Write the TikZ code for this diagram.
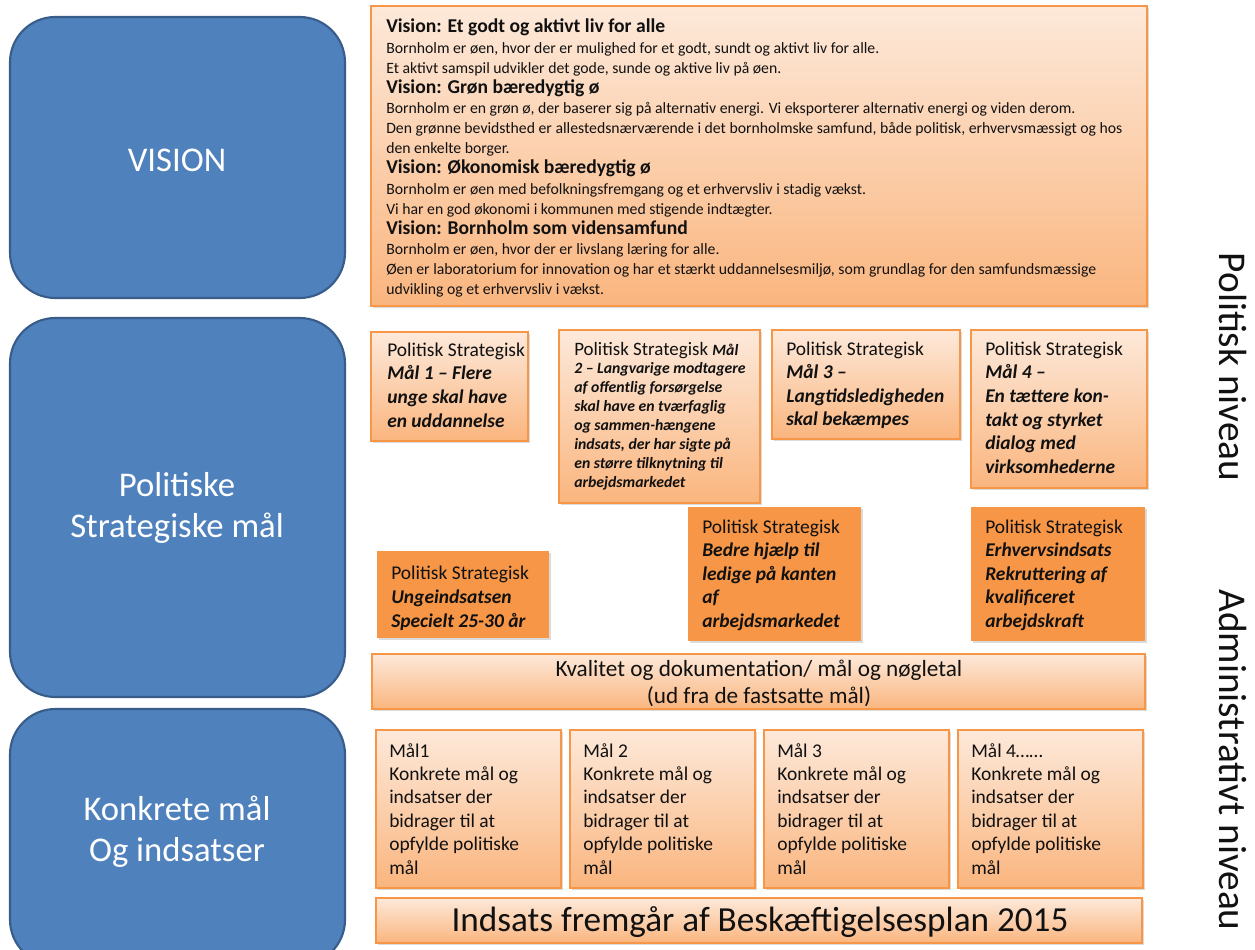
\documentclass[tikz,border=0pt]{standalone}
\usepackage{fontspec}
\setmainfont{Carlito}
\usetikzlibrary{fit,shadows}
\definecolor{bluefill}{HTML}{4F81BD}
\definecolor{blueline}{HTML}{385D8A}
\definecolor{orng}{HTML}{F79646}
\definecolor{peachtop}{HTML}{FDE9DA}
\definecolor{peachbot}{HTML}{FAB57E}
\definecolor{inkc}{HTML}{111111}
\newcommand\stk[2]{\vtop{\baselineskip=#1\lineskiplimit=-40pt\lineskip=0pt #2}}
\newcommand\myln[2]{\hbox{\fontsize{#1}{#1}\selectfont #2}}
\newcommand\mycln[2]{\hbox to 0pt{\hss\fontsize{#1}{#1}\selectfont #2\hss}}
\newcommand\bi{\bfseries\itshape}
\tikzset{
  x=0.75pt, y=-0.75pt,
  bluebox/.style={draw=blueline, line width=1.6pt, fill=bluefill, rounded corners=34pt, inner sep=0},
  peach/.style={draw=orng, line width=1.1pt, top color=peachtop, bottom color=peachbot, inner sep=0,
    drop shadow={shadow xshift=1.2pt, shadow yshift=-1.6pt, opacity=0.28}},
  orangebox/.style={fill=orng, inner sep=0,
    drop shadow={shadow xshift=1.2pt, shadow yshift=-1.6pt, opacity=0.28}},
  txt/.style={anchor=base west, inner sep=0, text=inkc},
  bluetxt/.style={align=center, text=white, inner sep=0, font=\fontsize{26}{31}\selectfont},
  sidetxt/.style={rotate=-90, inner sep=0, text=inkc, font=\fontsize{29.5}{32}\selectfont},
}
\begin{document}
\begin{tikzpicture}
\fill[white] (0,0) rectangle (1255,949);
\useasboundingbox (0,0) rectangle (1255,949);

% left blue boxes
\node[bluebox, fit={(10,17) (345,298)}] (bvis) {};
\node[bluebox, fit={(10,318) (345,697)}] (bpol) {};
\node[bluebox, fit={(10,709) (345,965)}] (bkon) {};
\node[bluetxt] (tvis) at (177,160) {VISION};
\node[bluetxt] (tpol) at (177,508) {Politiske\\Strategiske mål};
\node[bluetxt] (tkon) at (177,832) {Konkrete mål\\Og indsatser};

% vision box
\node[peach, fit={(371,6) (1147,306)}] (vis) {};
\node[txt] (vist) at (386,33) {\stk{15.1pt}{%
\myln{14.7}{\bfseries Vision: Et godt og aktivt liv for alle}
\myln{11.8}{Bornholm er øen, hvor der er mulighed for et godt, sundt og aktivt liv for alle.}
\myln{11.8}{Et aktivt samspil udvikler det gode, sunde og aktive liv på øen.}
\myln{14.7}{\bfseries Vision: Grøn bæredygtig ø}
\myln{11.8}{Bornholm er en grøn ø, der baserer sig på alternativ energi. Vi eksporterer alternativ energi og viden derom.}
\myln{11.8}{Den grønne bevidsthed er allestedsnærværende i det bornholmske samfund, både politisk, erhvervsmæssigt og hos}
\myln{11.8}{den enkelte borger.}
\myln{14.7}{\bfseries Vision: Økonomisk bæredygtig ø}
\myln{11.8}{Bornholm er øen med befolkningsfremgang og et erhvervsliv i stadig vækst.}
\myln{11.8}{Vi har en god økonomi i kommunen med stigende indtægter.}
\myln{14.7}{\bfseries Vision: Bornholm som vidensamfund}
\myln{11.8}{Bornholm er øen, hvor der er livslang læring for alle.}
\myln{11.8}{Øen er laboratorium for innovation og har et stærkt uddannelsesmiljø, som grundlag for den samfundsmæssige}
\myln{11.8}{udvikling og et erhvervsliv i vækst.}}};

% strategic goals, first row
\node[peach, fit={(371,332) (528,441)}] (m1) {};
\node[txt] (m1t) at (387,356) {\stk{17.9pt}{%
\myln{14.6}{Politisk Strategisk}
\myln{14.6}{\bi Mål 1 – Flere}
\myln{14.6}{\bi unge skal have}
\myln{14.6}{\bi en uddannelse}}};

\node[peach, fit={(559,330) (760,503)}] (m2) {};
\node[txt] (m2t) at (574,355) {\stk{14.2pt}{%
\myln{14.2}{Politisk Strategisk {\fontsize{11.8}{11.8}\selectfont\bi Mål}}
\myln{11.8}{\bi 2 – Langvarige modtagere}
\myln{11.8}{\bi af offentlig forsørgelse}
\myln{11.8}{\bi skal have en tværfaglig}
\myln{11.8}{\bi og sammen-hængene}
\myln{11.8}{\bi indsats, der har sigte på}
\myln{11.8}{\bi en større tilknytning til}
\myln{11.8}{\bi arbejdsmarkedet}}};

\node[peach, fit={(772,330) (960,439)}] (m3) {};
\node[txt] (m3t) at (786,355) {\stk{17.7pt}{%
\myln{14.6}{Politisk Strategisk}
\myln{14.6}{\bi Mål 3 –}
\myln{14.6}{\bi Langtidsledigheden}
\myln{14.6}{\bi skal bekæmpes}}};

\node[peach, fit={(971,330) (1147,488)}] (m4) {};
\node[txt] (m4t) at (985,355) {\stk{17.75pt}{%
\myln{14.6}{Politisk Strategisk}
\myln{14.6}{\bi Mål 4 –}
\myln{14.6}{\bi En tættere kon-}
\myln{14.6}{\bi takt og styrket}
\myln{14.6}{\bi dialog med}
\myln{14.6}{\bi virksomhederne}}};

% strategic goals, second row (solid orange)
\node[orangebox, fit={(377,551) (549,638)}] (s1) {};
\node[txt] (s1t) at (391,579) {\stk{18pt}{%
\myln{14.6}{Politisk Strategisk}
\myln{14.6}{\bi Ungeindsatsen}
\myln{14.6}{\bi Specielt 25-30 år}}};

\node[orangebox, fit={(688,507) (861,641)}] (s2) {};
\node[txt] (s2t) at (702,533) {\stk{17.7pt}{%
\myln{14.6}{Politisk Strategisk}
\myln{14.6}{\bi Bedre hjælp til}
\myln{14.6}{\bi ledige på kanten}
\myln{14.6}{\bi af}
\myln{14.6}{\bi arbejdsmarkedet}}};

\node[orangebox, fit={(971,507) (1145,641)}] (s3) {};
\node[txt] (s3t) at (985,533) {\stk{17.7pt}{%
\myln{14.6}{Politisk Strategisk}
\myln{14.6}{\bi Erhvervsindsats}
\myln{14.6}{\bi Rekruttering af}
\myln{14.6}{\bi kvalificeret}
\myln{14.6}{\bi arbejdskraft}}};

% quality bar
\node[peach, fit={(372,654) (1145,709)}] (kval) {};
\node[txt] (kvalt) at (758,676) {\stk{20.3pt}{%
\mycln{17.4}{Kvalitet og dokumentation/ mål og nøgletal}
\mycln{17.4}{(ud fra de fastsatte mål)}}};

% concrete goals
\node[peach, fit={(376,730) (561,888)}] (k1) {};
\node[peach, fit={(570,730) (755,888)}] (k2) {};
\node[peach, fit={(764,730) (949,888)}] (k3) {};
\node[peach, fit={(958,730) (1143,888)}] (k4) {};
\node[txt] (k1t) at (389,757) {\stk{17.55pt}{%
\myln{14.6}{Mål1}\myln{14.6}{Konkrete mål og}\myln{14.6}{indsatser der}%
\myln{14.6}{bidrager til at}\myln{14.6}{opfylde politiske}\myln{14.6}{mål}}};
\node[txt] (k2t) at (583,757) {\stk{17.55pt}{%
\myln{14.6}{Mål 2}\myln{14.6}{Konkrete mål og}\myln{14.6}{indsatser der}%
\myln{14.6}{bidrager til at}\myln{14.6}{opfylde politiske}\myln{14.6}{mål}}};
\node[txt] (k3t) at (777,757) {\stk{17.55pt}{%
\myln{14.6}{Mål 3}\myln{14.6}{Konkrete mål og}\myln{14.6}{indsatser der}%
\myln{14.6}{bidrager til at}\myln{14.6}{opfylde politiske}\myln{14.6}{mål}}};
\node[txt] (k4t) at (971,757) {\stk{17.55pt}{%
\myln{14.6}{Mål 4……}\myln{14.6}{Konkrete mål og}\myln{14.6}{indsatser der}%
\myln{14.6}{bidrager til at}\myln{14.6}{opfylde politiske}\myln{14.6}{mål}}};

% bottom bar
\node[peach, fit={(376,898) (1142,943)}] (inds) {};
\node[txt] (indst) at (759,931) {\mycln{26.4}{Indsats fremgår af Beskæftigelsesplan 2015}};

% side labels
\node[sidetxt] (pniv) at (1233,367) {Politisk niveau};
\node[sidetxt] (aniv) at (1233,760) {Administrativt niveau};
\end{tikzpicture}
\end{document}
